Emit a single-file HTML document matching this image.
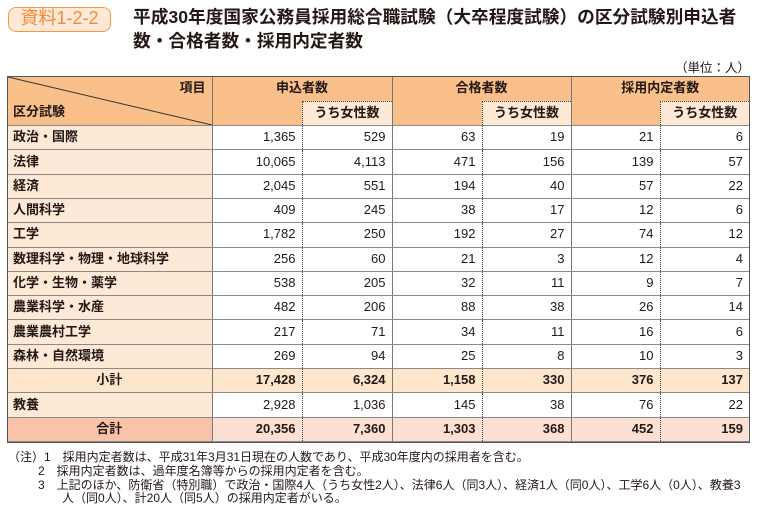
<!DOCTYPE html>
<html><head><meta charset="utf-8"><style>
body{margin:0;width:760px;height:515px;background:#fff;font-family:"Liberation Sans","Noto Sans CJK JP",sans-serif;color:#231815;position:relative;overflow:hidden}
.badge{position:absolute;left:8px;top:7px;width:103px;height:25px;border:1.5px solid #f29a4a;border-radius:8px;background:#fde9d5;color:#f08a3c;font-size:18px;text-align:center;box-sizing:border-box;line-height:21px}
.title{position:absolute;left:133px;top:5px;font-size:17.7px;line-height:24px;font-weight:bold;color:#231815;white-space:nowrap}
.unit{position:absolute;right:10px;top:57px;font-size:12.5px}
table{position:absolute;left:8px;top:77px;border-collapse:collapse;table-layout:fixed;font-size:13px}
td{padding:0 6px;border-top:1px solid #8a8a8a;border-bottom:1px solid #8a8a8a;height:24.3px;box-sizing:border-box;text-align:right;background:#fff;line-height:14px;padding-bottom:1px}
td.l{text-align:left;background:#fde9d5;font-weight:bold;border-right:1px solid #777;padding-left:5px}
td.m{border-left:1px solid #777}
td.f{border-left:1px dotted #444}
tr.h td{background:#f9c08a;font-weight:bold;text-align:center;border:none}
tr.h td.sub{background:#fde9d5;border-top:1px dotted #444;border-left:1px dotted #444}
tr.s td{background:#fde6cc;font-weight:bold}
tr.s td.l{text-align:center}
tr.t td{background:#fde0d4;font-weight:bold}
tr.t td.l{background:#f8c3a8;text-align:center}
.tb{outline:1.5px solid #555}
.notes{position:absolute;left:8px;top:451px;font-size:12px;line-height:13.8px}
.notes div{white-space:nowrap}
</style></head><body>
<div class="badge">資料1-2-2</div>
<div class="title">平成30年度国家公務員採用総合職試験（大卒程度試験）の区分試験別申込者<br>数・合格者数・採用内定者数</div>
<div class="unit">（単位：人）</div>
<table class="tb">
<colgroup><col style="width:204px"><col style="width:90px"><col style="width:90px"><col style="width:90px"><col style="width:89px"><col style="width:89px"><col style="width:89px"></colgroup>
<tr class="h"><td rowspan="2" style="position:relative;border-right:1px solid #777;padding:0">
<svg width="204" height="48" style="position:absolute;left:0;top:0"><line x1="0" y1="0" x2="204" y2="48" stroke="#333" stroke-width="1"/></svg>
<span style="position:absolute;right:6px;top:4px">項目</span><span style="position:absolute;left:5px;bottom:6px">区分試験</span></td>
<td colspan="2" style="height:24px">申込者数</td><td colspan="2" style="border-left:1px solid #777">合格者数</td><td colspan="2" style="border-left:1px solid #777">採用内定者数</td></tr>
<tr class="h"><td style="height:24px"></td><td class="sub">うち女性数</td><td style="border-left:1px solid #777"></td><td class="sub">うち女性数</td><td style="border-left:1px solid #777"></td><td class="sub">うち女性数</td></tr>
<tr><td class="l">政治・国際</td><td>1,365</td><td class="f">529</td><td class="m">63</td><td class="f">19</td><td class="m">21</td><td class="f">6</td></tr>
<tr><td class="l">法律</td><td>10,065</td><td class="f">4,113</td><td class="m">471</td><td class="f">156</td><td class="m">139</td><td class="f">57</td></tr>
<tr><td class="l">経済</td><td>2,045</td><td class="f">551</td><td class="m">194</td><td class="f">40</td><td class="m">57</td><td class="f">22</td></tr>
<tr><td class="l">人間科学</td><td>409</td><td class="f">245</td><td class="m">38</td><td class="f">17</td><td class="m">12</td><td class="f">6</td></tr>
<tr><td class="l">工学</td><td>1,782</td><td class="f">250</td><td class="m">192</td><td class="f">27</td><td class="m">74</td><td class="f">12</td></tr>
<tr><td class="l">数理科学・物理・地球科学</td><td>256</td><td class="f">60</td><td class="m">21</td><td class="f">3</td><td class="m">12</td><td class="f">4</td></tr>
<tr><td class="l">化学・生物・薬学</td><td>538</td><td class="f">205</td><td class="m">32</td><td class="f">11</td><td class="m">9</td><td class="f">7</td></tr>
<tr><td class="l">農業科学・水産</td><td>482</td><td class="f">206</td><td class="m">88</td><td class="f">38</td><td class="m">26</td><td class="f">14</td></tr>
<tr><td class="l">農業農村工学</td><td>217</td><td class="f">71</td><td class="m">34</td><td class="f">11</td><td class="m">16</td><td class="f">6</td></tr>
<tr><td class="l">森林・自然環境</td><td>269</td><td class="f">94</td><td class="m">25</td><td class="f">8</td><td class="m">10</td><td class="f">3</td></tr>
<tr class="s"><td class="l">小計</td><td>17,428</td><td class="f">6,324</td><td class="m">1,158</td><td class="f">330</td><td class="m">376</td><td class="f">137</td></tr>
<tr><td class="l">教養</td><td>2,928</td><td class="f">1,036</td><td class="m">145</td><td class="f">38</td><td class="m">76</td><td class="f">22</td></tr>
<tr class="t"><td class="l">合計</td><td>20,356</td><td class="f">7,360</td><td class="m">1,303</td><td class="f">368</td><td class="m">452</td><td class="f">159</td></tr>
</table>
<div class="notes">
<div>（注）1　採用内定者数は、平成31年3月31日現在の人数であり、平成30年度内の採用者を含む。</div>
<div style="padding-left:30px">2　採用内定者数は、過年度名簿等からの採用内定者を含む。</div>
<div style="padding-left:30px">3　上記のほか、防衛省（特別職）で政治・国際4人（うち女性2人）、法律6人（同3人）、経済1人（同0人）、工学6人（0人）、教養3</div>
<div style="padding-left:54px">人（同0人）、計20人（同5人）の採用内定者がいる。</div>
</div>
</body></html>
